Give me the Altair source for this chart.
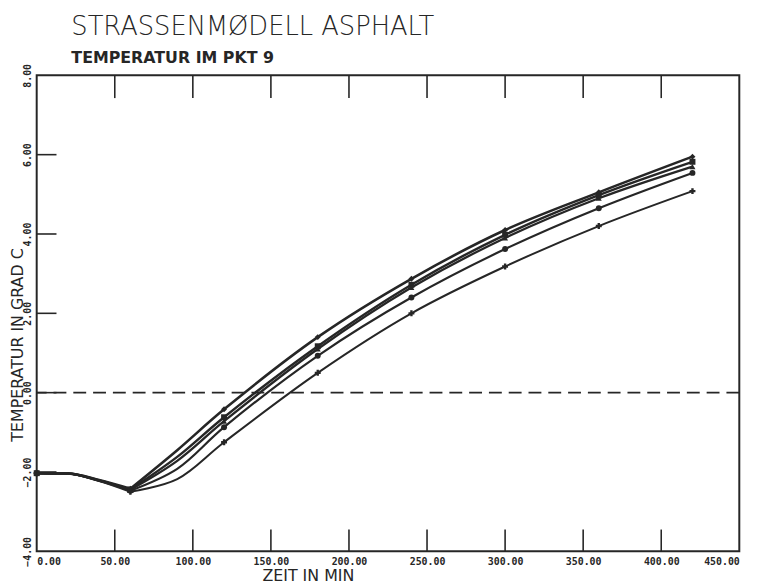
import altair as alt
import pandas as pd

# ---- data ----
times = [0, 20, 40, 60, 90, 120, 180, 240, 300, 360, 420]
kurve_1 = [-2.03, -2.04, -2.20, -2.42, -1.45, -0.42, 1.40, 2.87, 4.10, 5.05, 5.95]
kurve_2 = [-2.03, -2.04, -2.21, -2.44, -1.62, -0.62, 1.17, 2.72, 3.98, 4.98, 5.82]
kurve_3 = [-2.03, -2.04, -2.22, -2.45, -1.72, -0.72, 1.10, 2.65, 3.90, 4.90, 5.70]
kurve_4 = [-2.03, -2.04, -2.22, -2.47, -1.92, -0.87, 0.93, 2.40, 3.62, 4.65, 5.54]
kurve_5 = [-2.03, -2.04, -2.23, -2.50, -2.18, -1.25, 0.50, 2.00, 3.18, 4.20, 5.08]
marker_times = [0, 60, 120, 180, 240, 300, 360, 420]

series_names = ["Kurve 1", "Kurve 2", "Kurve 3", "Kurve 4", "Kurve 5"]
series_values = [kurve_1, kurve_2, kurve_3, kurve_4, kurve_5]
marker_shapes = ["diamond", "square", "triangle-up", "circle", "cross"]
line_widths = [2.6, 2.0, 1.6, 1.8, 1.3]

x_tick_values = [0, 50, 100, 150, 200, 250, 300, 350, 400, 450]
y_tick_values = [-4, -2, 0, 2, 4, 6, 8]
inner_x_ticks = [50, 100, 150, 200, 250, 300, 350, 400]
inner_y_ticks = [-2, 0, 2, 4, 6]
zero_line = [0.0]

title_text = "STRASSENMØDELL ASPHALT"
subtitle_text = "TEMPERATUR IM PKT 9"
x_title = "ZEIT IN MIN"
y_title = "TEMPERATUR IN GRAD C"

# ---- tables ----
rows = []
for name, vals in zip(series_names, series_values):
    for t, v in zip(times, vals):
        rows.append({"series": name, "t": t, "v": v, "marker": t in marker_times})
df = pd.DataFrame(rows)

W, H = 710, 481
INK = "#262626"

xs = alt.Scale(domain=[0, 450], nice=False, zero=False)
ys = alt.Scale(domain=[-4, 8], nice=False, zero=False)

x_enc = alt.X(
    "t:Q", scale=xs, title=x_title,
    axis=alt.Axis(values=x_tick_values, format=".2f", ticks=False, tickSize=0, domain=False,
                  grid=False, labelFont="DejaVu Sans Mono", labelFontSize=10,
                  labelFontWeight="bold", labelColor=INK, labelPadding=5,
                  titleFont="DejaVu Sans", titleFontSize=16, titleFontWeight="normal",
                  titleColor=INK, titleX=274, titleY=29, titleAlign="center",
                  titleBaseline="alphabetic"),
)
y_enc = alt.Y(
    "v:Q", scale=ys, title=y_title,
    axis=alt.Axis(values=y_tick_values, format=".2f", ticks=False, tickSize=0, domain=False,
                  grid=False, labelFont="DejaVu Sans Mono", labelFontSize=10,
                  labelFontWeight="bold", labelColor=INK, labelPadding=4,
                  labelAngle=270, labelAlign="center", labelBaseline="bottom",
                  titleFont="DejaVu Sans", titleFontSize=16, titleFontWeight="normal",
                  titleColor=INK, titleAngle=270, titleX=-14, titleY=272,
                  titleAlign="center", titleBaseline="alphabetic"),
)

sw = alt.StrokeWidth("series:N", scale=alt.Scale(domain=series_names, range=line_widths), legend=None)

lines_early = alt.Chart(df).transform_filter("datum.t <= 60").mark_line(
    interpolate="monotone", color=INK
).encode(x=x_enc, y=y_enc, detail="series:N", strokeWidth=sw)

lines_late = alt.Chart(df).transform_filter("datum.t >= 60").mark_line(
    interpolate="catmull-rom", color=INK
).encode(x=alt.X("t:Q", scale=xs), y=alt.Y("v:Q", scale=ys), detail="series:N", strokeWidth=sw)

points = alt.Chart(df).transform_filter("datum.marker").mark_point(
    filled=True, size=36, color=INK, opacity=1
).encode(
    x=alt.X("t:Q", scale=xs),
    y=alt.Y("v:Q", scale=ys),
    shape=alt.Shape("series:N", scale=alt.Scale(domain=series_names, range=marker_shapes), legend=None),
)

zero_df = pd.DataFrame({"v": zero_line})
zero = alt.Chart(zero_df).mark_rule(strokeDash=[13, 7], strokeWidth=1.6, color=INK).encode(
    y=alt.Y("v:Q", scale=ys)
)

xt_df = pd.DataFrame({"t": inner_x_ticks})
bottom_ticks = alt.Chart(xt_df).mark_rule(strokeWidth=1.6, color=INK).encode(
    x=alt.X("t:Q", scale=xs), y=alt.value(H), y2=alt.value(H - 22)
)
top_ticks = alt.Chart(xt_df).mark_rule(strokeWidth=1.6, color=INK).encode(
    x=alt.X("t:Q", scale=xs), y=alt.value(0), y2=alt.value(23)
)
yt_df = pd.DataFrame({"v": inner_y_ticks})
left_ticks = alt.Chart(yt_df).mark_rule(strokeWidth=1.6, color=INK).encode(
    y=alt.Y("v:Q", scale=ys), x=alt.value(0), x2=alt.value(20)
)

title = alt.Chart(pd.DataFrame({"s": [title_text]})).mark_text(
    align="left", baseline="alphabetic", font="DejaVu Sans", fontSize=26,
    fontWeight=300, color=INK
).encode(text="s:N", x=alt.value(35), y=alt.value(-41))

subtitle = alt.Chart(pd.DataFrame({"s": [subtitle_text]})).mark_text(
    align="left", baseline="alphabetic", font="DejaVu Sans", fontSize=16,
    fontWeight="bold", color=INK
).encode(text="s:N", x=alt.value(35), y=alt.value(-12))

chart = alt.layer(
    lines_early, lines_late, points, zero, bottom_ticks, top_ticks, left_ticks, title, subtitle
).properties(
    width=W, height=H,
    autosize=alt.AutoSizeParams(type="none"),
    padding={"left": 29, "top": 65, "right": 29, "bottom": 31},
    background="white",
).configure_view(stroke=INK, strokeWidth=2)

chart.save("out.html", embed_options={"renderer": "svg", "actions": False})
